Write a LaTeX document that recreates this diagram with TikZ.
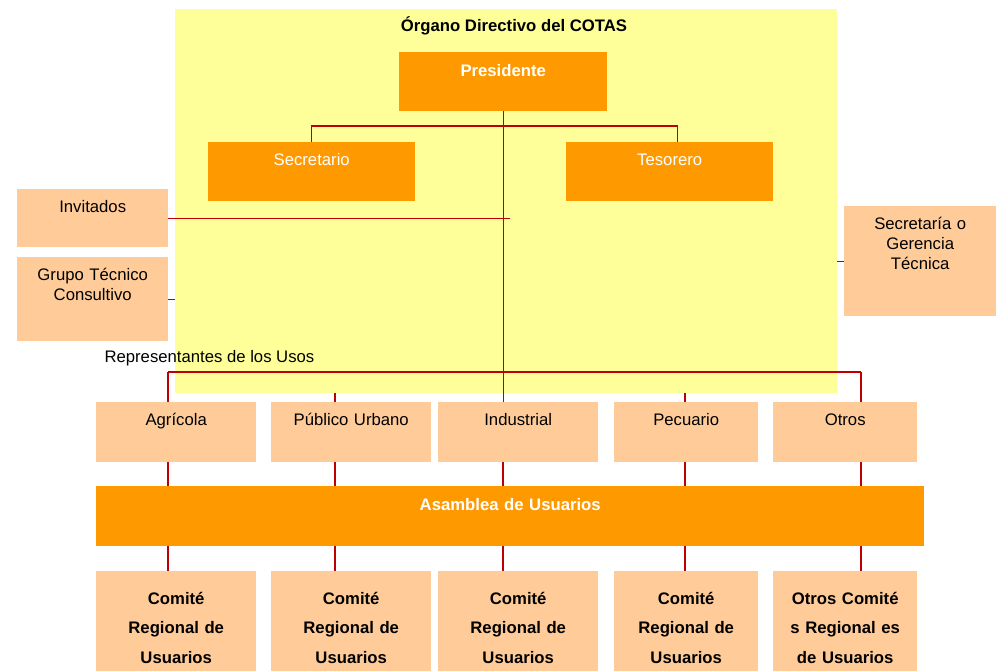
\documentclass[tikz,border=0pt]{standalone}
\usepackage{fontspec}
\setmainfont{Liberation Sans}
\usetikzlibrary{positioning}
\definecolor{paleyellow}{HTML}{FFFF99}
\definecolor{cotasorange}{HTML}{FF9900}
\definecolor{peach}{HTML}{FFCC99}
\definecolor{linkred}{HTML}{C00000}

\begin{document}
\begin{tikzpicture}[
  x=1pt, y=-1pt,
  every node/.style={font=\fontsize{16.7}{20}\selectfont},
  box/.style={rectangle, anchor=north west, inner sep=0pt, align=center, text height=23pt},
  mainbox/.style={box, fill=cotasorange, text=white},
  sidebox/.style={box, fill=peach},
  comite/.style={sidebox, text height=33pt, text depth=67pt, font=\fontsize{16.7}{29.5}\selectfont\bfseries},
  link/.style={draw=linkred, line width=1.4pt}
]
\useasboundingbox (0,0) rectangle (1000,671);

% Organo directivo
\node[rectangle, fill=paleyellow, anchor=north west, inner sep=0pt, minimum width=662pt, minimum height=384pt] (org) at (175,9) {};
\node[anchor=base, font=\fontsize{16.7}{20}\selectfont\bfseries] (title) at (514,32) {Órgano Directivo del COTAS};

\node[mainbox, text width=208pt, text height=24pt, text depth=35pt] (pres) at (399,52) {\bfseries Presidente};
\node[mainbox, text width=207pt, text depth=36pt] (sec) at (208,142) {Secretario};
\node[mainbox, text width=207pt, text depth=36pt] (tes) at (566,142) {Tesorero};

% Side boxes
\node[sidebox, text width=151pt, text depth=35pt] (inv) at (17,189) {Invitados};
\node[sidebox, text width=151pt, text depth=61pt] (gtc) at (17,257) {Grupo Técnico\\Consultivo};
\node[sidebox, text width=152pt, text depth=87pt] (sgt) at (844,206) {Secretaría o\\Gerencia\\Técnica};

\node[anchor=base west] (rep) at (101,362) {Representantes de los Usos};

% Usos
\node[sidebox, text width=160pt, text depth=37pt] (agr) at (96,402) {Agrícola};
\node[sidebox, text width=160pt, text depth=37pt] (pu) at (271,402) {Público Urbano};
\node[sidebox, text width=160pt, text depth=37pt] (ind) at (438,402) {Industrial};
\node[sidebox, text width=144pt, text depth=37pt] (pec) at (614,402) {Pecuario};
\node[sidebox, text width=144pt, text depth=37pt] (otr) at (773,402) {Otros};

\node[mainbox, text width=828pt, text height=24pt, text depth=36pt] (asa) at (96,486) {\bfseries Asamblea de Usuarios};

% Comites regionales
\node[comite, text width=160pt] (cagr) at (96,571) {Comité\\Regional de\\Usuarios};
\node[comite, text width=160pt] (cpu) at (271,571) {Comité\\Regional de\\Usuarios};
\node[comite, text width=160pt] (cind) at (438,571) {Comité\\Regional de\\Usuarios};
\node[comite, text width=144pt] (cpec) at (614,571) {Comité\\Regional de\\Usuarios};
\node[comite, text width=144pt] (cotr) at (773,571) {Otros Comité\\s Regional es\\de Usuarios};

% Connections
\draw[link] (pres.south) -- (pres.south |- ind.north);
\draw[link] (sec.north) -- ++(0,-16) -| ([xshift=8pt]tes.north);
\draw[link] (inv.east) -- ++(342,0);
\draw[link] (gtc.east) -- (gtc.east -| org.west);
\draw[link] (sgt.west) -- (sgt.west -| org.east);

\coordinate (ragr) at (168,372);
\coordinate (rotr) at (861,372);
\draw[link] (ragr) -- (rotr);
\draw[link] (ragr) -- (ragr |- agr.north);
\draw[link] (rotr) -- (rotr |- otr.north);
\draw[link] (org.south -| 335,0) -- (pu.north -| 335,0);
\draw[link] (org.south -| 685,0) -- (pec.north -| 685,0);

\foreach \u/\c/\x in {agr/cagr/168, pu/cpu/335, ind/cind/503, pec/cpec/685, otr/cotr/861} {
  \draw[link] (\u.south -| \x,0) -- (asa.north -| \x,0);
  \draw[link] (asa.south -| \x,0) -- (\c.north -| \x,0);
}

\end{tikzpicture}
\end{document}
